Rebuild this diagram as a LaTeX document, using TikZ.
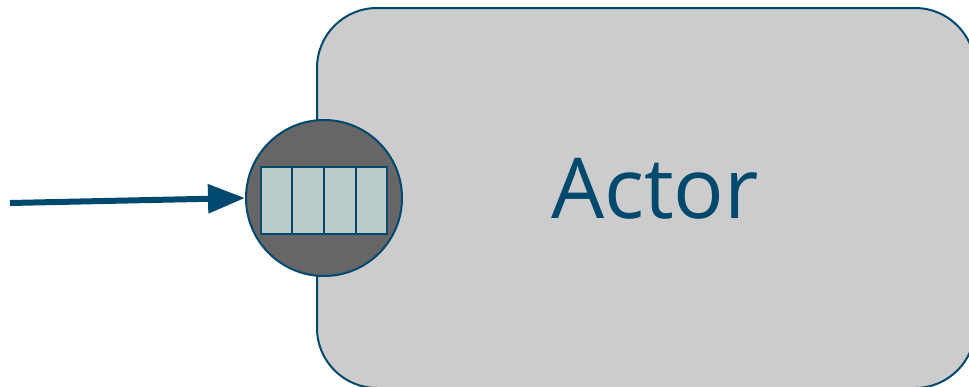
\documentclass[tikz,border=0pt]{standalone}
\usepackage{fontspec}
\setmainfont{Open Sans}
\usetikzlibrary{arrows.meta,calc}
\definecolor{navy}{RGB}{0,73,110}
\definecolor{boxgray}{RGB}{204,204,204}
\definecolor{portgray}{RGB}{102,102,102}
\definecolor{slotblue}{RGB}{187,204,204}
\begin{document}
\begin{tikzpicture}[x=1pt, y=-1pt, >={Triangle[length=37pt, width=28pt]},
	actorbox/.style={draw=navy, line width=2pt, fill=boxgray, rounded corners=60pt, minimum width=658pt, minimum height=380pt, inner sep=0pt},
	portdisc/.style={circle, draw=navy, line width=2pt, fill=portgray, minimum size=156pt, inner sep=0pt},
	slots/.style={draw=navy, line width=2pt, fill=slotblue, minimum width=126pt, minimum height=67pt, inner sep=0pt}]
	\useasboundingbox (0,0) rectangle (969,386);
	\clip (0,0) rectangle (969,386);
	\node[actorbox] (actor) at (646,198) {};
	\node[text=navy, font=\fontsize{84}{88}\selectfont, anchor=base, inner sep=0pt] (name) at (655,218) {Actor};
	\node[portdisc] (port) at (324,198) {};
	\node[slots] (queue) at (324,200) {};
	\foreach \i in {1,2,3}
		\draw[navy, line width=2pt] ($(queue.north west)!\i/4!(queue.north east)$) -- ($(queue.south west)!\i/4!(queue.south east)$);
	\coordinate (src) at (10,203);
	\draw[->, navy, line width=6pt] (src) -- (port.west);
\end{tikzpicture}
\end{document}
